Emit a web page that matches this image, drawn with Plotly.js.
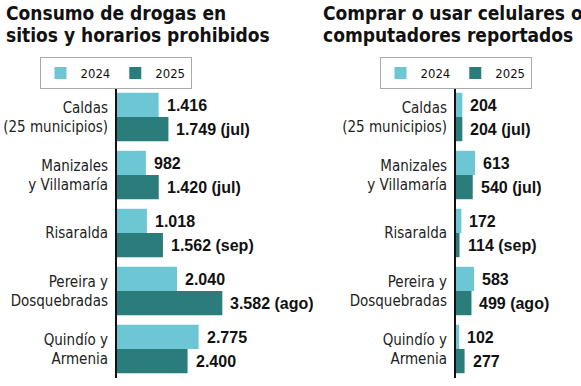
<!DOCTYPE html>
<html>
<head>
<meta charset="utf-8">
<script src="https://cdn.plot.ly/plotly-3.0.1.min.js"></script>
<style>html,body{margin:0;padding:0;background:#fff;}#chart{width:581px;height:386px;}</style>
</head>
<body>
<div id="chart"></div>
<script>
var categories = ["Caldas<br>(25 municipios)", "Manizales<br>y Villamaría", "Risaralda", "Pereira y<br>Dosquebradas", "Quindío y<br>Armenia"];
var seriesNames = ["2024", "2025"];
var drugs2024 = [1416, 982, 1018, 2040, 2775];
var drugs2025 = [1749, 1420, 1562, 3582, 2400];
var drugs2025Month = ["jul", "jul", "sep", "ago", ""];
var phones2024 = [204, 613, 172, 583, 102];
var phones2025 = [204, 540, 114, 499, 277];
var phones2025Month = ["jul", "jul", "sep", "ago", ""];
var titleLeft = ["Consumo de drogas en", "sitios y horarios prohibidos"];
var titleRight = ["Comprar o usar celulares o", "computadores reportados"];

var W = 581, H = 386;
var C24 = "#6cc6d3", C25 = "#2b7d7c";
var NARROW = "DejaVu Sans Condensed, Liberation Sans Narrow, sans-serif";
var BOLD = "Liberation Sans, Arial, sans-serif";

function fmt(v) {
  return String(v).replace(/\B(?=(\d{3})+(?!\d))/g, ".");
}
function px(x) { return x / W; }
function py(y) { return 1 - y / H; }

var traces = [
  {type: "bar", orientation: "h", y: categories, x: drugs2024, name: seriesNames[0], marker: {color: C24}, xaxis: "x", yaxis: "y", legend: "legend", hoverinfo: "none"},
  {type: "bar", orientation: "h", y: categories, x: drugs2025, name: seriesNames[1], marker: {color: C25}, xaxis: "x", yaxis: "y", legend: "legend", hoverinfo: "none"},
  {type: "bar", orientation: "h", y: categories, x: phones2024, name: seriesNames[0], marker: {color: C24}, xaxis: "x2", yaxis: "y2", legend: "legend2", hoverinfo: "none"},
  {type: "bar", orientation: "h", y: categories, x: phones2025, name: seriesNames[1], marker: {color: C25}, xaxis: "x2", yaxis: "y2", legend: "legend2", hoverinfo: "none"}
];

var annotations = [];
function addValueLabels(v24, v25, months, xr, yr) {
  for (var i = 0; i < categories.length; i++) {
    annotations.push({x: v24[i], y: i, xref: xr, yref: yr, text: "<b>" + fmt(v24[i]) + "</b>", showarrow: false,
      xanchor: "left", yanchor: "middle", xshift: 6, yshift: 12, font: {family: BOLD, size: 16, color: "#111"}});
    annotations.push({x: v25[i], y: i, xref: xr, yref: yr, text: "<b>" + fmt(v25[i]) + (months[i] ? " (" + months[i] + ")" : "") + "</b>", showarrow: false,
      xanchor: "left", yanchor: "middle", xshift: 6, yshift: -12, font: {family: BOLD, size: 16, color: "#111"}});
  }
}
addValueLabels(drugs2024, drugs2025, drugs2025Month, "x", "y");
addValueLabels(phones2024, phones2025, phones2025Month, "x2", "y2");

function addTitle(lines, x0) {
  var ys = [13, 34.8];
  lines.forEach(function (t, k) {
    annotations.push({text: "<b>" + t + "</b>", xref: "paper", yref: "paper", x: px(x0), y: py(ys[k]),
      xanchor: "left", yanchor: "middle", showarrow: false, font: {family: NARROW, size: 19, color: "#111"}});
  });
}
addTitle(titleLeft, 4);
addTitle(titleRight, 321);

var yDom = [py(378), py(88)];
var yaxisBase = {type: "category", domain: yDom, autorange: "reversed", showline: true, linecolor: "#111", linewidth: 2,
  ticks: "", showgrid: false, zeroline: false, tickfont: {family: NARROW, size: 15, color: "#222"}, ticklabelstandoff: 4, fixedrange: true};
var xaxisBase = {showgrid: false, zeroline: false, showticklabels: false, showline: false, ticks: "", fixedrange: true};

var legendBase = {xanchor: "center", yanchor: "top", orientation: "h", bordercolor: "#aaa", borderwidth: 1,
  bgcolor: "#fff", font: {family: NARROW, size: 13, color: "#111"}, itemclick: false, itemdoubleclick: false};

var layout = {
  width: W, height: H,
  margin: {l: 0, r: 0, t: 0, b: 0},
  paper_bgcolor: "#fff", plot_bgcolor: "#fff",
  barmode: "group", bargap: 0.165, bargroupgap: 0,
  xaxis: Object.assign({}, xaxisBase, {domain: [px(117), px(290)], range: [0, 5884], anchor: "y"}),
  yaxis: Object.assign({}, yaxisBase, {anchor: "x"}),
  xaxis2: Object.assign({}, xaxisBase, {domain: [px(456), 1], range: [0, 4032], anchor: "y2"}),
  yaxis2: Object.assign({}, yaxisBase, {anchor: "x2"}),
  legend: Object.assign({}, legendBase, {x: px(115.5), y: py(57)}),
  legend2: Object.assign({}, legendBase, {x: px(455.5), y: py(57)}),
  annotations: annotations,
  showlegend: true
};

Plotly.newPlot("chart", traces, layout, {staticPlot: true, displayModeBar: false});
</script>
</body>
</html>
